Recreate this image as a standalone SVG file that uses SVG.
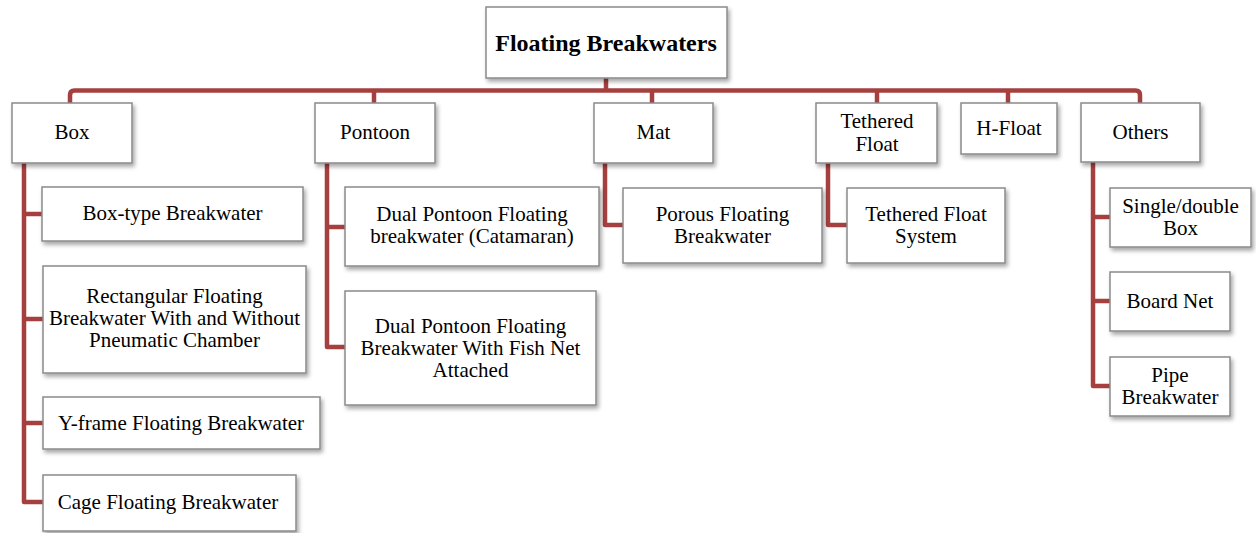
<svg xmlns="http://www.w3.org/2000/svg" width="1256" height="533" viewBox="0 0 1256 533">
<defs>
<filter id="sh" x="-10%" y="-10%" width="125%" height="140%">
<feDropShadow dx="2" dy="3" stdDeviation="2" flood-color="#000" flood-opacity="0.35"/>
</filter>
<style>
.n rect{fill:#fff;stroke:#8a8a8a;stroke-width:1.5;filter:url(#sh)}
.n text{font-family:"Liberation Serif","Times New Roman",serif;font-size:21px;fill:#000;text-anchor:middle}
.n text.root{font-weight:bold;font-size:24px}
#connectors path{fill:none;stroke:#a5403f;stroke-width:4.5;stroke-linejoin:round;stroke-linecap:butt}
</style>
</defs>
<rect width="1256" height="533" fill="#fff"/>
<g id="connectors">
<path d="M606,78 V90.5"/>
<path d="M70,103 V95 Q70,90.5 74.5,90.5 H1135.5 Q1140,90.5 1140,95 V103"/>
<path d="M374,90.5 V103"/>
<path d="M652,90.5 V103"/>
<path d="M877,90.5 V103"/>
<path d="M1008,90.5 V103"/>
<path d="M24,163 V502 H43"/>
<path d="M24,214 H42"/>
<path d="M24,319 H43"/>
<path d="M24,423 H43"/>
<path d="M327,163 V347 H345"/>
<path d="M327,227 H345"/>
<path d="M605,163 V225 H623"/>
<path d="M828,163 V225 H847"/>
<path d="M1093,162 V386 H1110"/>
<path d="M1093,217 H1110"/>
<path d="M1093,301 H1110"/>
</g>
<g id="root" class="n"><rect x="486" y="7" width="241" height="71"/><text class="root" x="606" y="51">Floating Breakwaters</text></g>
<g id="box" class="n"><rect x="12" y="103" width="120" height="60"/><text x="72" y="139">Box</text></g>
<g id="pontoon" class="n"><rect x="315" y="103" width="120" height="60"/><text x="375" y="139">Pontoon</text></g>
<g id="mat" class="n"><rect x="594" y="103" width="119" height="60"/><text x="653.5" y="139">Mat</text></g>
<g id="tethered" class="n"><rect x="816" y="103" width="121" height="60"/><text x="877" y="128">Tethered</text><text x="877" y="151">Float</text></g>
<g id="hfloat" class="n"><rect x="961" y="103" width="96" height="51"/><text x="1009" y="135">H-Float</text></g>
<g id="others" class="n"><rect x="1081" y="103" width="119" height="59"/><text x="1140.5" y="139">Others</text></g>
<g id="boxtype" class="n"><rect x="42" y="187" width="261" height="54"/><text x="172.5" y="220">Box-type Breakwater</text></g>
<g id="rect" class="n"><rect x="43" y="266" width="263" height="107"/><text x="174.5" y="303">Rectangular Floating</text><text x="174.5" y="325">Breakwater With and Without</text><text x="174.5" y="347">Pneumatic Chamber</text></g>
<g id="yframe" class="n"><rect x="43" y="397" width="277" height="52"/><text x="181" y="430">Y-frame Floating Breakwater</text></g>
<g id="cage" class="n"><rect x="43" y="475" width="253" height="56"/><text x="168" y="509">Cage Floating Breakwater</text></g>
<g id="catamaran" class="n"><rect x="345" y="187" width="254" height="79"/><text x="472" y="221">Dual Pontoon Floating</text><text x="472" y="243">breakwater (Catamaran)</text></g>
<g id="fishnet" class="n"><rect x="345" y="291" width="251" height="114"/><text x="470.5" y="333">Dual Pontoon Floating</text><text x="470.5" y="355">Breakwater With Fish Net</text><text x="470.5" y="377">Attached</text></g>
<g id="porous" class="n"><rect x="623" y="188" width="199" height="75"/><text x="722.5" y="221">Porous Floating</text><text x="722.5" y="243">Breakwater</text></g>
<g id="tfs" class="n"><rect x="847" y="188" width="158" height="75"/><text x="926" y="221">Tethered Float</text><text x="926" y="243">System</text></g>
<g id="single" class="n"><rect x="1110" y="188" width="141" height="59"/><text x="1180.5" y="213">Single/double</text><text x="1180.5" y="235">Box</text></g>
<g id="board" class="n"><rect x="1110" y="272" width="120" height="59"/><text x="1170" y="308">Board Net</text></g>
<g id="pipe" class="n"><rect x="1110" y="357" width="120" height="59"/><text x="1170" y="382">Pipe</text><text x="1170" y="404">Breakwater</text></g>
</svg>
